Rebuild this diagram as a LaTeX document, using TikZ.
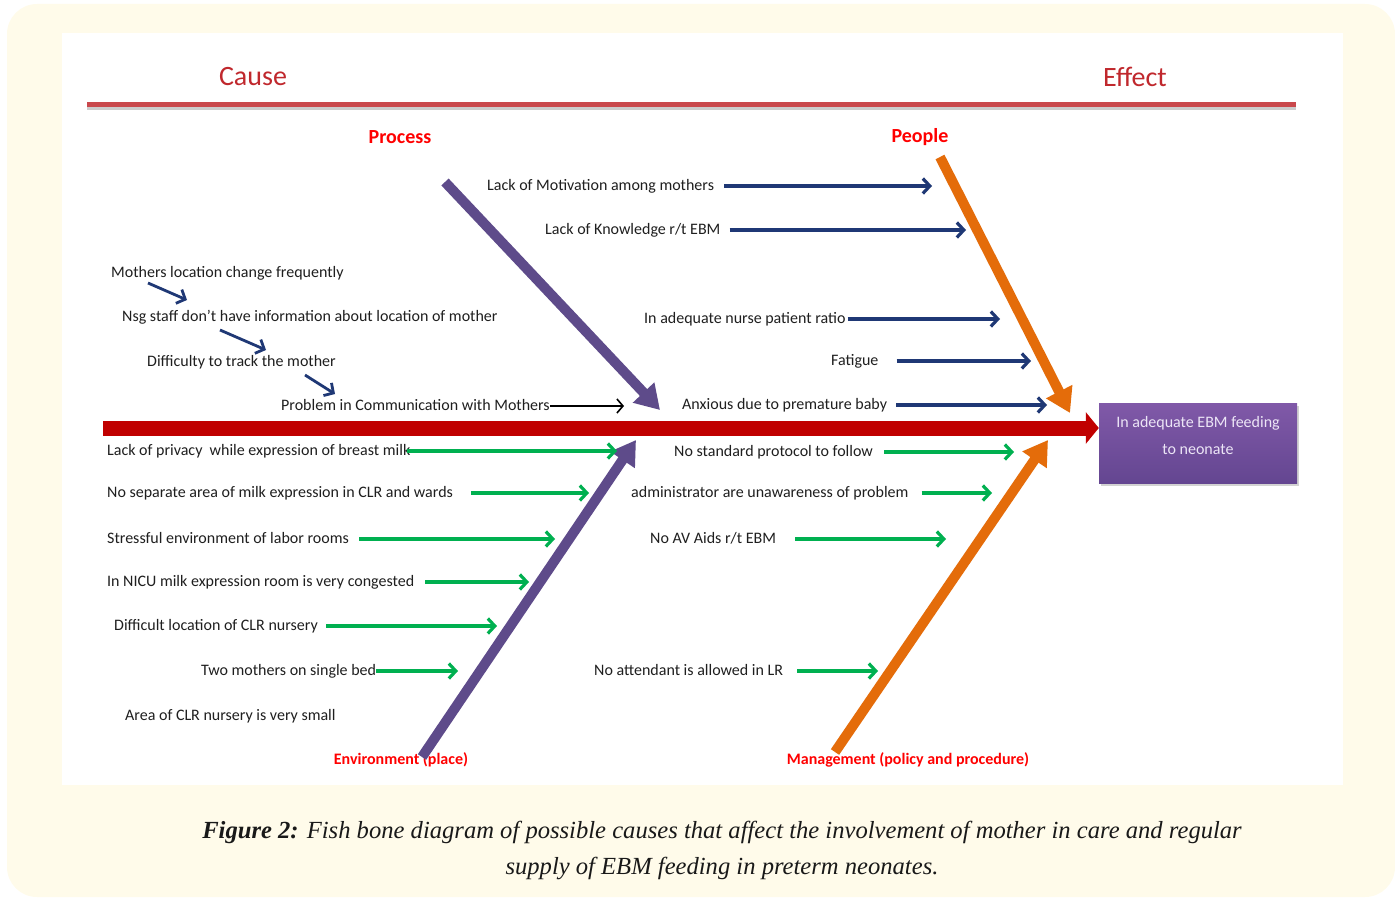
\documentclass[tikz,border=0pt]{standalone}
\usepackage{fontspec}
\setmainfont{Carlito}
\newfontfamily\capfont{Liberation Serif}
\usetikzlibrary{arrows.meta,shadows}

\definecolor{causered}{RGB}{192,40,45}
\definecolor{labred}{RGB}{255,0,0}
\definecolor{spinered}{RGB}{192,0,0}
\definecolor{bonepurple}{RGB}{94,75,138}
\definecolor{boneorange}{RGB}{228,108,10}
\definecolor{navyarr}{RGB}{31,56,117}
\definecolor{greenarr}{RGB}{0,176,80}
\definecolor{creambg}{RGB}{255,251,234}
\definecolor{boxtop}{RGB}{128,89,168}
\definecolor{boxbot}{RGB}{100,70,145}
\definecolor{boxtext}{RGB}{236,229,246}

\tikzset{
  causetext/.style={anchor=west, inner sep=0pt, text height=11pt, text depth=3pt,
    font=\fontsize{16}{18}\selectfont, text=black!88},
  bonelabel/.style={inner sep=0pt, font=\fontsize{16}{18}\selectfont\bfseries, text=labred},
  bluearrow/.style={draw=navyarr, line width=3.2pt, -{Straight Barb[length=7pt,width=15pt]}},
  greenarrow/.style={draw=greenarr, line width=3.2pt, -{Straight Barb[length=7pt,width=15pt]}},
  bone/.style={line width=10pt, -{Triangle[length=24pt,width=28pt]}},
}

\begin{document}
\begin{tikzpicture}[x=1pt, y=-1pt]

\useasboundingbox (0,0) rectangle (1395,899);
\fill[creambg, rounded corners=30pt] (7,4) rectangle (1395,897);
\fill[white] (62,33) rectangle (1343,785);

% cause / effect heading
\node (cause) [font=\fontsize{28}{30}\selectfont, text=causered] at (253,77) {Cause};
\node (effecttitle) [font=\fontsize{28}{30}\selectfont, text=causered] at (1135,77) {Effect};
\coordinate (headl) at (87,104);
\coordinate (headr) at (1296,104);
\draw[line width=5pt, black!20] ([yshift=-3pt]headl) -- ([yshift=-3pt]headr);
\draw[line width=5pt, causered!85] (headl) -- (headr);

% effect box and spine
\node (effect) [rectangle, minimum width=198pt, minimum height=80pt, top color=boxtop, bottom color=boxbot,
  drop shadow={shadow xshift=2pt, shadow yshift=-3pt, opacity=0.35}] at (1198,443) {};
\node (effecttext) [align=center, text=boxtext, font=\fontsize{16}{27}\selectfont]
  at ([yshift=8pt]effect.center) {In adequate EBM feeding\\to neonate};
\coordinate (spinestart) at (103,428);
\draw[draw=spinered, line width=15pt, -{Triangle[length=13pt,width=31pt]}] (spinestart) -- (spinestart -| effect.west);

% bones
\node (proclab) [bonelabel, font=\fontsize{20}{22}\selectfont\bfseries] at (400,137) {Process};
\node (peoplab) [bonelabel, font=\fontsize{20}{22}\selectfont\bfseries] at (920,137) {People};
\node (envlab) [bonelabel] at (401,760) {Environment (place)};
\node (mgmtlab) [bonelabel] at (908,760) {Management (policy and procedure)};

\coordinate (procs) at (445,182);
\coordinate (proct) at (660,410);
\coordinate (envs) at (422,757);
\coordinate (envt) at (636,440);
\coordinate (peops) at (940,157);
\coordinate (peopt) at (1070,413);
\coordinate (mgmts) at (835,752);
\coordinate (mgmtt) at (1048,440);
\draw[bone, bonepurple] (procs) -- (proct);
\draw[bone, bonepurple] (envs) -- (envt);
\draw[bone, boneorange] (peops) -- (peopt);
\draw[bone, boneorange] (mgmts) -- (mgmtt);

% process causes
\node (proc1) [causetext] at (111,273) {Mothers location change frequently};
\node (proc2) [causetext] at (122,317) {Nsg staff don’t have information about location of mother};
\node (proc3) [causetext] at (147,362) {Difficulty to track the mother};
\node (proc4) [causetext] at (281,406) {Problem in Communication with Mothers};
\coordinate (k1a) at (148,283);
\coordinate (k1b) at (187,300);
\coordinate (k2a) at (220,330);
\coordinate (k2b) at (266,350);
\coordinate (k3a) at (305,375);
\coordinate (k3b) at (335,394);
\draw[bluearrow, line width=2.8pt] (k1a) -- (k1b);
\draw[bluearrow, line width=2.8pt] (k2a) -- (k2b);
\draw[bluearrow, line width=2.8pt] (k3a) -- (k3b);
\coordinate (pa4) at (624,406);
\draw[black, line width=1.6pt, -{Straight Barb[length=6pt,width=14pt]}] (proc4.east) -- (pa4);

% people causes
\node (peop1) [causetext] at (487,186) {Lack of Motivation among mothers};
\node (peop2) [causetext] at (545,230) {Lack of Knowledge r/t EBM};
\node (peop3) [causetext] at (644,319) {In adequate nurse patient ratio};
\node (peop4) [causetext] at (831,361) {Fatigue};
\node (peop5) [causetext] at (682,405) {Anxious due to premature baby};
\coordinate (pe1) at (932,186);
\coordinate (pe2) at (966,230);
\coordinate (pe3) at (1000,319);
\coordinate (pe4) at (1031,361);
\coordinate (pe5) at (1047,405);
\draw[bluearrow] ([xshift=10pt]peop1.east) -- (pe1);
\draw[bluearrow] ([xshift=9pt]peop2.east) -- (pe2);
\draw[bluearrow] ([xshift=2pt]peop3.east) -- (pe3);
\draw[bluearrow] ([xshift=18pt]peop4.east) -- (pe4);
\draw[bluearrow] ([xshift=9pt]peop5.east) -- (pe5);

% environment causes
\node (env1) [causetext] at (107,451) {Lack of privacy\ \ while expression of breast milk};
\node (env2) [causetext] at (107,493) {No separate area of milk expression in CLR and wards};
\node (env3) [causetext] at (107,539) {Stressful environment of labor rooms};
\node (env4) [causetext] at (107,582) {In NICU milk expression room is very congested};
\node (env5) [causetext] at (114,626) {Difficult location of CLR nursery};
\node (env6) [causetext] at (201,671) {Two mothers on single bed};
\node (env7) [causetext] at (125,716) {Area of CLR nursery is very small};
\coordinate (ee1) at (617,451);
\coordinate (ee2) at (589,493);
\coordinate (ee3) at (555,539);
\coordinate (ee4) at (529,582);
\coordinate (ee5) at (497,626);
\coordinate (ee6) at (458,671);
\draw[greenarrow] ([xshift=-4pt]env1.east) -- (ee1);
\draw[greenarrow] ([xshift=18pt]env2.east) -- (ee2);
\draw[greenarrow] ([xshift=10pt]env3.east) -- (ee3);
\draw[greenarrow] ([xshift=11pt]env4.east) -- (ee4);
\draw[greenarrow] ([xshift=8pt]env5.east) -- (ee5);
\draw[greenarrow] (env6.east) -- (ee6);

% management causes
\node (mgmt1) [causetext] at (674,452) {No standard protocol to follow};
\node (mgmt2) [causetext] at (631,493) {administrator are unawareness of problem};
\node (mgmt3) [causetext] at (650,539) {No AV Aids r/t EBM};
\node (mgmt4) [causetext] at (594,671) {No attendant is allowed in LR};
\coordinate (me1) at (1014,452);
\coordinate (me2) at (992,493);
\coordinate (me3) at (946,539);
\coordinate (me4) at (878,671);
\draw[greenarrow] ([xshift=11pt]mgmt1.east) -- (me1);
\draw[greenarrow] ([xshift=13pt]mgmt2.east) -- (me2);
\draw[greenarrow] ([xshift=19pt]mgmt3.east) -- (me3);
\draw[greenarrow] ([xshift=14pt]mgmt4.east) -- (me4);

% caption
\node (caption) [align=center, font=\capfont\itshape\fontsize{24.6}{36}\selectfont, text=black!90] at (722,850)
  {\textbf{Figure 2:} Fish bone diagram of possible causes that affect the involvement of mother in care and regular\\
   supply of EBM feeding in preterm neonates.};

\end{tikzpicture}
\end{document}
